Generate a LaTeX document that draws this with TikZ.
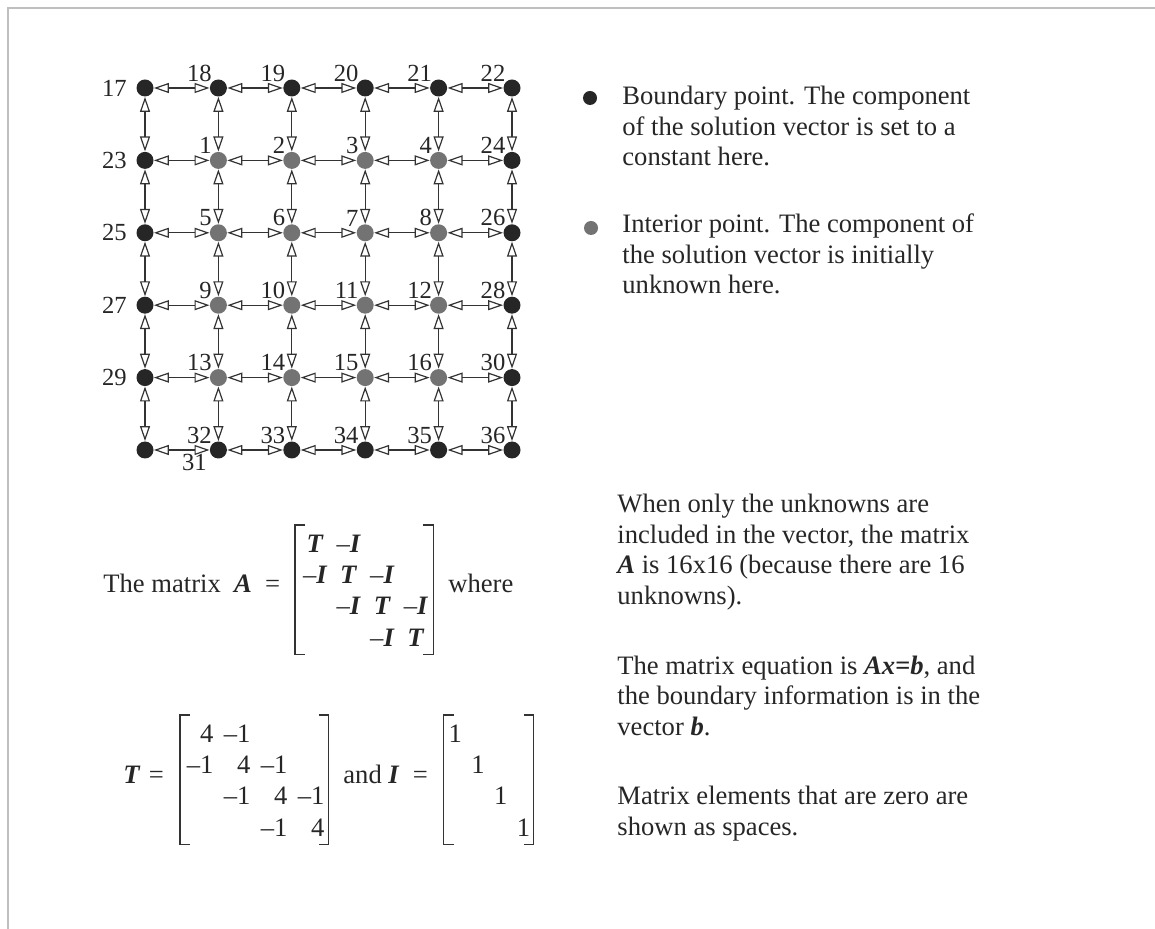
\documentclass[tikz,border=0pt]{standalone}
\usepackage{fontspec}
\setmainfont{Liberation Serif}
\usetikzlibrary{arrows.meta, positioning, matrix}

\newcommand{\bfit}[1]{\textbf{\textit{#1}}}

\begin{document}
\begin{tikzpicture}[x=0.5pt, y=-0.5pt,
    txt/.style={inner sep=0pt, text=black!85, font=\fontsize{13.3}{15.25}\selectfont, align=left},
    lbl/.style={inner sep=0pt, text=black!85, font=\fontsize{12.3}{14}\selectfont},
    bnd/.style={circle, fill=black!85, minimum size=8.5pt, inner sep=0pt},
    inn/.style={circle, fill=black!55, minimum size=8.5pt, inner sep=0pt},
    tl/.style={label={[lbl, label distance=0pt]above left:#1}},
    lt/.style={label={[lbl, label distance=4.5pt]left:#1}},
    br/.style={label={[lbl, label distance=14pt]-6:#1}},
    link/.style={black!80, line width=0.6pt,
      {Triangle[open,length=7.5pt,width=5pt]}-{Triangle[open,length=7.5pt,width=5pt]}},
    brk/.style={black!80, line width=0.65pt},
    mat/.style={matrix of nodes, inner sep=0pt, row sep=3.6pt, column sep=0pt, anchor=north west},
    cell/.style={txt, inner sep=0pt, text height=9pt, text depth=3pt},
  ]
  \useasboundingbox (0,0) rectangle (1155,929);
  % Frame
  \draw[gray!50, line width=0.75pt] (8,929) -- (8,8) -- (1155,8);

  % Grid points: label / column / row / kind / label position
  \foreach \lab/\gx/\gy/\kind/\lpos in {
      17/0/0/bnd/lt, 18/1/0/bnd/tl, 19/2/0/bnd/tl, 20/3/0/bnd/tl, 21/4/0/bnd/tl, 22/5/0/bnd/tl,
      23/0/1/bnd/lt, 1/1/1/inn/tl, 2/2/1/inn/tl, 3/3/1/inn/tl, 4/4/1/inn/tl, 24/5/1/bnd/tl,
      25/0/2/bnd/lt, 5/1/2/inn/tl, 6/2/2/inn/tl, 7/3/2/inn/tl, 8/4/2/inn/tl, 26/5/2/bnd/tl,
      27/0/3/bnd/lt, 9/1/3/inn/tl, 10/2/3/inn/tl, 11/3/3/inn/tl, 12/4/3/inn/tl, 28/5/3/bnd/tl,
      29/0/4/bnd/lt, 13/1/4/inn/tl, 14/2/4/inn/tl, 15/3/4/inn/tl, 16/4/4/inn/tl, 30/5/4/bnd/tl,
      31/0/5/bnd/br, 32/1/5/bnd/tl, 33/2/5/bnd/tl, 34/3/5/bnd/tl, 35/4/5/bnd/tl, 36/5/5/bnd/tl}
    \node[\kind, \lpos=\lab] (g-\gx-\gy) at ({145+73.4*\gx}, {88+72.4*\gy}) {};

  % Links between neighbours
  \foreach \gy in {0,...,5}
    \foreach \gx [count=\nx from 1] in {0,...,4}
      \draw[link] (g-\gx-\gy) -- (g-\nx-\gy);
  \foreach \gx in {0,...,5}
    \foreach \gy [count=\ny from 1] in {0,...,4}
      \draw[link] (g-\gx-\gy) -- (g-\gx-\ny);

  % Legend
  \node[bnd, minimum size=7pt] (leg1) at (590,98) {};
  \node[txt, anchor=base west] (legtxt1) at (622,166)
    {Boundary point. The component\\ of the solution vector is set to a\\ constant here.};
  \node[inn, minimum size=7pt] (leg2) at (591,228) {};
  \node[txt, anchor=base west] (legtxt2) at (622,294)
    {Interior point. The component of\\ the solution vector is initially\\ unknown here.};

  % Notes
  \node[txt, anchor=base west] (note1) at (617,604)
    {When only the unknowns are\\ included in the vector, the matrix\\ \bfit{A} is 16x16 (because there are 16\\ unknowns).};
  \node[txt, anchor=base west] (note2) at (617,735)
    {The matrix equation is \bfit{Ax=b}, and\\ the boundary information is in the\\ vector \bfit{b}.};
  \node[txt, anchor=base west] (note3) at (617,835)
    {Matrix elements that are zero are\\ shown as spaces.};

  % A = block matrix
  \node[txt, anchor=base west] (alab) at (103,593) {The matrix~~\bfit{A}~~=};
  \matrix (amat) [mat, nodes={cell, text width=16.8pt, align=center}] at (298,534) {
    \bfit{T} & --\bfit{I} & & \\
    --\bfit{I} & \bfit{T} & --\bfit{I} & \\
    & --\bfit{I} & \bfit{T} & --\bfit{I} \\
    & & --\bfit{I} & \bfit{T} \\
  };
  \node[txt, anchor=base west] (where) at (448,593) {where};

  % T and I
  \node[txt, anchor=base west] (tlab) at (123,783) {\bfit{T}\hspace{4.2pt}=};
  \matrix (tmat) [mat, nodes={cell, text width=18.5pt, align=right}] at (176,724) {
    4 & --1 & & \\
    --1 & 4 & --1 & \\
    & --1 & 4 & --1 \\
    & & --1 & 4 \\
  };
  \node[txt, anchor=base west] (ilab) at (343,783) {and~\bfit{I}~~=};
  \matrix (imat) [mat, nodes={cell, text width=11.35pt, align=center}] at (443.6,724) {
    1 & & & \\
    & 1 & & \\
    & & 1 & \\
    & & & 1 \\
  };

  % Brackets: matrix / left offset / right offset
  \foreach \m/\dl/\dr in {amat/-1.5pt/0pt, tmat/2pt/2pt, imat/0pt/-0.7pt} {
    \draw[brk] ([xshift=\dl+5pt,yshift=4.5pt]\m.north west) -- ([xshift=\dl,yshift=4.5pt]\m.north west)
      -- ([xshift=\dl,yshift=-1pt]\m.south west) -- ([xshift=\dl+5pt,yshift=-1pt]\m.south west);
    \draw[brk] ([xshift=\dr-5pt,yshift=4.5pt]\m.north east) -- ([xshift=\dr,yshift=4.5pt]\m.north east)
      -- ([xshift=\dr,yshift=-1pt]\m.south east) -- ([xshift=\dr-5pt,yshift=-1pt]\m.south east);
  }
\end{tikzpicture}
\end{document}
